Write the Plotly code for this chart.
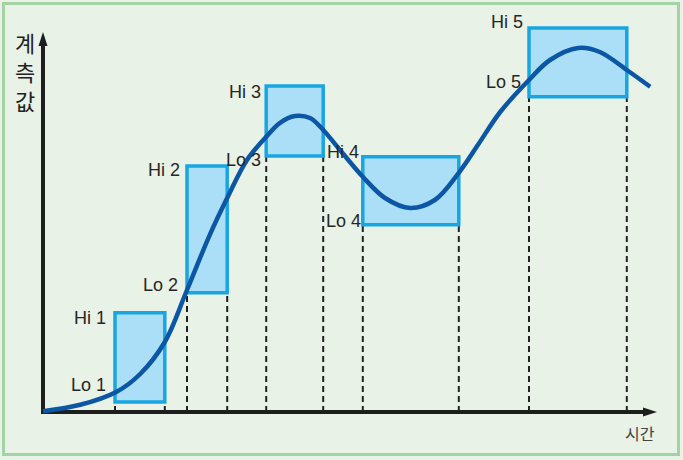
import plotly.graph_objects as go

# ---- data (arbitrary units: time t, measured value v) ----
curve_t = [0, 6.2, 12.2, 16.2, 20.3, 24, 27.8, 30.7, 34, 37.2, 39.5, 42, 44.5, 46.7,
           49.5, 53.3, 57, 61.2, 65.3, 69.3, 72.5, 76.2, 81, 84.5, 89.2, 92.8, 97.3, 101.2]
curve_v = [0.2, 1.8, 5, 9.5, 17.5, 30.5, 44.3, 53.5, 63, 68.8, 72.3, 74, 73.5, 70.5,
           65.5, 58.8, 53.5, 51, 53, 59.8, 66.8, 75, 83, 88, 91, 90, 85.5, 81.3]

box_t_lo = [12, 24, 37.2, 53.3, 81]
box_t_hi = [20.3, 30.7, 46.7, 69.3, 97.3]
box_v_lo = [2.5, 29.8, 64, 46.8, 78.8]
box_v_hi = [24.8, 61.5, 81.5, 63.8, 96]
hi_labels = ["Hi 1", "Hi 2", "Hi 3", "Hi 4", "Hi 5"]
lo_labels = ["Lo 1", "Lo 2", "Lo 3", "Lo 4", "Lo 5"]
y_title = "계측값"
x_title = "시간"

# axis extents
x_axis_end = 102.33
y_axis_end = 95

# ---- styling / layout ----
W, H = 683, 460
ml, mr, mt, mb = 35, 23, 24, 40
pw, ph = W - ml - mr, H - mt - mb
def px_to_paper_x(px):
    return (px - ml) / pw
def py_to_paper_y(py):
    return (H - mb - py) / ph

hi_xshift = [-7, -5, -3, -2, -4]
hi_yshift = [-5.5, -3.5, -5.5, 5, 6.5]
lo_xshift = [-7, -7, -3, 0, -6]
lo_yshift = [17.5, 8, -4, 4, 14.5]

label_font = dict(family="Liberation Sans, Arial, sans-serif", size=18, color="#262626")
box_fill = "#aadff7"
box_line = "#18a6e3"
curve_color = "#0b57a6"
axis_color = "#1e1e1e"

fig = go.Figure()

shapes = []
# border
shapes.append(dict(type="rect", xref="paper", yref="paper",
                   x0=px_to_paper_x(3.5), x1=px_to_paper_x(678.5),
                   y0=py_to_paper_y(454.5), y1=py_to_paper_y(3.5),
                   line=dict(color="#a3d3a3", width=3), layer="below"))
# dashed guide lines
for i in range(len(box_t_lo)):
    for tx in (box_t_lo[i], box_t_hi[i]):
        shapes.append(dict(type="line", xref="x", yref="y", x0=tx, x1=tx,
                           y0=0, y1=box_v_lo[i],
                           line=dict(color="#222222", width=2, dash="6px,4px"),
                           layer="below"))
# boxes
for i in range(len(box_t_lo)):
    shapes.append(dict(type="rect", xref="x", yref="y",
                       x0=box_t_lo[i], x1=box_t_hi[i], y0=box_v_lo[i], y1=box_v_hi[i],
                       fillcolor=box_fill, line=dict(color=box_line, width=3.5),
                       layer="below"))
# axes lines
shapes.append(dict(type="line", xref="x", yref="y", x0=0, x1=x_axis_end - 1.5, y0=0, y1=0,
                   line=dict(color=axis_color, width=4), layer="below"))
shapes.append(dict(type="line", xref="x", yref="y", x0=0, x1=0, y0=-0.5, y1=y_axis_end - 2,
                   line=dict(color=axis_color, width=4), layer="below"))
# arrow heads (pixel-sized)
shapes.append(dict(type="path", xref="x", yref="y", xsizemode="pixel", ysizemode="pixel",
                   xanchor=x_axis_end, yanchor=0,
                   path="M0,0 L-14,4.5 L-14,-4.5 Z",
                   fillcolor=axis_color, line=dict(width=0), layer="above"))
shapes.append(dict(type="path", xref="x", yref="y", xsizemode="pixel", ysizemode="pixel",
                   xanchor=0, yanchor=y_axis_end,
                   path="M0,0 L-4.5,-14 L4.5,-14 Z",
                   fillcolor=axis_color, line=dict(width=0), layer="above"))

fig.add_trace(go.Scatter(x=curve_t, y=curve_v, mode="lines",
                         line=dict(color=curve_color, width=4.5, shape="spline"),
                         hoverinfo="skip", showlegend=False))

annotations = []
for i in range(len(box_t_lo)):
    annotations.append(dict(x=box_t_lo[i], y=box_v_hi[i], xref="x", yref="y",
                            text=hi_labels[i], showarrow=False, xanchor="right",
                            yanchor="middle", xshift=hi_xshift[i], yshift=hi_yshift[i],
                            font=label_font))
    annotations.append(dict(x=box_t_lo[i], y=box_v_lo[i], xref="x", yref="y",
                            text=lo_labels[i], showarrow=False, xanchor="right",
                            yanchor="middle", xshift=lo_xshift[i], yshift=lo_yshift[i],
                            font=label_font))
# vertical y-axis title, one character per line
title_centers_py = [42, 71, 100]
for ch, cy in zip(y_title, title_centers_py):
    annotations.append(dict(x=px_to_paper_x(25), y=py_to_paper_y(cy), xref="paper", yref="paper",
                            text=ch, showarrow=False, xanchor="center", yanchor="middle",
                            font=dict(family="Noto Sans CJK KR", size=22, color="#222222")))
annotations.append(dict(x=px_to_paper_x(640), y=py_to_paper_y(433), xref="paper", yref="paper",
                        text=x_title, showarrow=False, xanchor="center", yanchor="middle",
                        font=dict(family="Noto Sans CJK KR", size=16, color="#444444")))

fig.update_layout(
    width=W, height=H,
    margin=dict(l=ml, r=mr, t=mt, b=mb, pad=0),
    paper_bgcolor="#e8f2e6", plot_bgcolor="#e8f2e6",
    xaxis=dict(range=[-8 / 6, (W - mr - 43) / 6], visible=False, fixedrange=True),
    yaxis=dict(range=[-2, 97], visible=False, fixedrange=True),
    shapes=shapes, annotations=annotations, showlegend=False,
)

fig.write_html("out.html", config={"displayModeBar": False},
               post_script="document.body.style.margin='0';document.body.style.overflow='hidden';")
